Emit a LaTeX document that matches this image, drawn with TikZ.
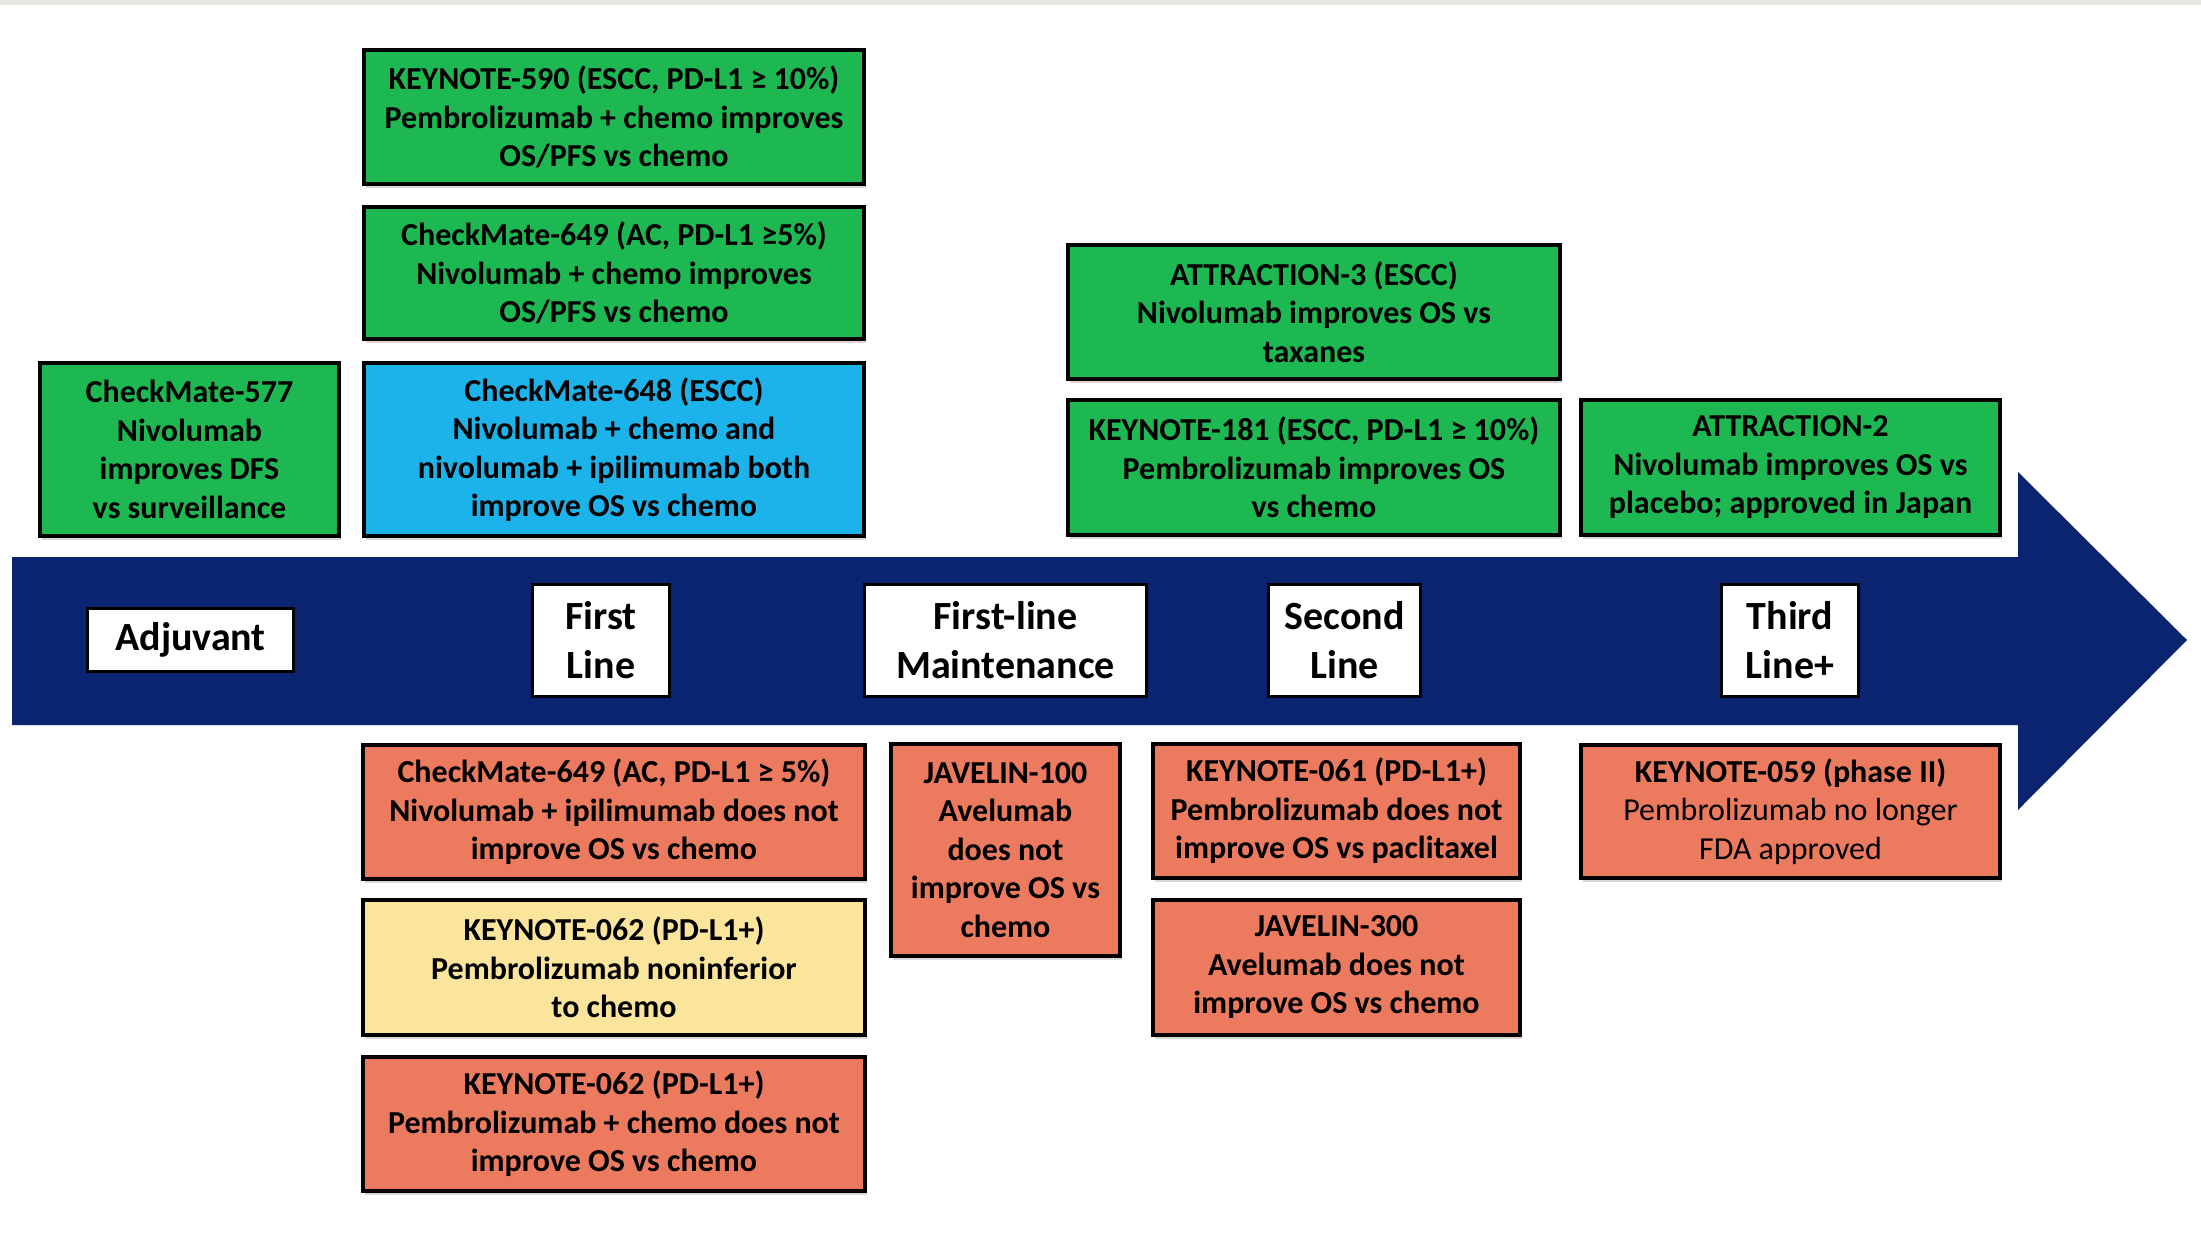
\documentclass[tikz,border=0pt]{standalone}
\usepackage{fontspec}
\setmainfont{Carlito}
\usetikzlibrary{shadows}

\definecolor{navy}{HTML}{0B2470}
\definecolor{trialgreen}{HTML}{1EB852}
\definecolor{trialblue}{HTML}{1CB2EA}
\definecolor{trialred}{HTML}{EC7A5E}
\definecolor{trialyellow}{HTML}{FBE59C}
\definecolor{topgrey}{HTML}{E9E7E2}

\tikzset{
  trial/.style={draw=black, line width=4pt, inner sep=0pt, align=center,
    font=\fontsize{32}{38.5}\selectfont\bfseries,
    drop shadow={shadow xshift=2pt, shadow yshift=-4pt, opacity=0.3}},
  phase/.style={draw=black, fill=white, line width=3pt, inner sep=0pt, align=center,
    font=\fontsize{40}{49}\selectfont\bfseries}
}

\begin{document}
\begin{tikzpicture}[x=1pt, y=-1pt]
\useasboundingbox (0,0) rectangle (2201,1240);
\fill[white] (0,0) rectangle (2201,1240);
\fill[topgrey] (0,0) rectangle (2201,5);

% timeline arrow
\fill[navy] (12,557) -- (2018,557) -- (2018,472) -- (2187,640) -- (2018,810) -- (2018,725) -- (12,725) -- cycle;

% phases
\node[phase, minimum width=206, minimum height=63] (adj) at (190.5,640) {Adjuvant};
\node[phase, minimum width=137, minimum height=112] (first) at (601,640.5) {First\\Line};
\node[phase, minimum width=282, minimum height=112] (maint) at (1005.5,640.5) {First-line\\Maintenance};
\node[phase, minimum width=152, minimum height=112] (second) at (1344.5,640.5) {Second\\Line};
\node[phase, minimum width=137, minimum height=112] (third) at (1790,640.5) {Third\\Line+};

% positive trials above the arrow
\node[trial, fill=trialgreen, minimum width=500, minimum height=134] (kn590) at (614,117) {KEYNOTE-590 (ESCC, PD-L1 ≥ 10\%)\\Pembrolizumab + chemo improves\\OS/PFS vs chemo};
\node[trial, fill=trialgreen, minimum width=500, minimum height=132] (cm649g) at (614,273) {CheckMate-649 (AC, PD-L1 ≥5\%)\\Nivolumab + chemo improves\\OS/PFS vs chemo};
\node[trial, fill=trialgreen, minimum width=299, minimum height=173] (cm577) at (189.5,449.5) {CheckMate-577\\Nivolumab\\improves DFS\\vs surveillance};
\node[trial, fill=trialblue, minimum width=500, minimum height=173] (cm648) at (614,449.5) {CheckMate-648 (ESCC)\\Nivolumab + chemo and\\nivolumab + ipilimumab both\\improve OS vs chemo};
\node[trial, fill=trialgreen, minimum width=492, minimum height=134] (att3) at (1314,312) {ATTRACTION-3 (ESCC)\\Nivolumab improves OS vs\\taxanes};
\node[trial, fill=trialgreen, minimum width=492, minimum height=135] (kn181) at (1314,467.5) {KEYNOTE-181 (ESCC, PD-L1 ≥ 10\%)\\Pembrolizumab improves OS\\vs chemo};
\node[trial, fill=trialgreen, minimum width=419, minimum height=135] (att2) at (1790.5,467.5) {ATTRACTION-2\\Nivolumab improves OS vs\\placebo; approved in Japan};

% negative / other trials below the arrow
\node[trial, fill=trialred, minimum width=502, minimum height=134] (cm649r) at (614,812) {CheckMate-649 (AC, PD-L1 ≥ 5\%)\\Nivolumab + ipilimumab does not\\improve OS vs chemo};
\node[trial, fill=trialyellow, minimum width=502, minimum height=135] (kn062y) at (614,967.5) {KEYNOTE-062 (PD-L1+)\\Pembrolizumab noninferior\\to chemo};
\node[trial, fill=trialred, minimum width=502, minimum height=134] (kn062r) at (614,1124) {KEYNOTE-062 (PD-L1+)\\Pembrolizumab + chemo does not\\improve OS vs chemo};
\node[trial, fill=trialred, minimum width=229, minimum height=212] (jav100) at (1005.5,850) {JAVELIN-100\\Avelumab\\does not\\improve OS vs\\chemo};
\node[trial, fill=trialred, minimum width=367, minimum height=134] (kn061) at (1336.5,811) {KEYNOTE-061 (PD-L1+)\\Pembrolizumab does not\\improve OS vs paclitaxel};
\node[trial, fill=trialred, minimum width=367, minimum height=135] (jav300) at (1336.5,967.5) {JAVELIN-300\\Avelumab does not\\improve OS vs chemo};
\node[trial, fill=trialred, minimum width=419, minimum height=133] (kn059) at (1790.5,811.5) {KEYNOTE-059 (phase II)\\{\mdseries Pembrolizumab no longer}\\{\mdseries FDA approved}};
\end{tikzpicture}
\end{document}
